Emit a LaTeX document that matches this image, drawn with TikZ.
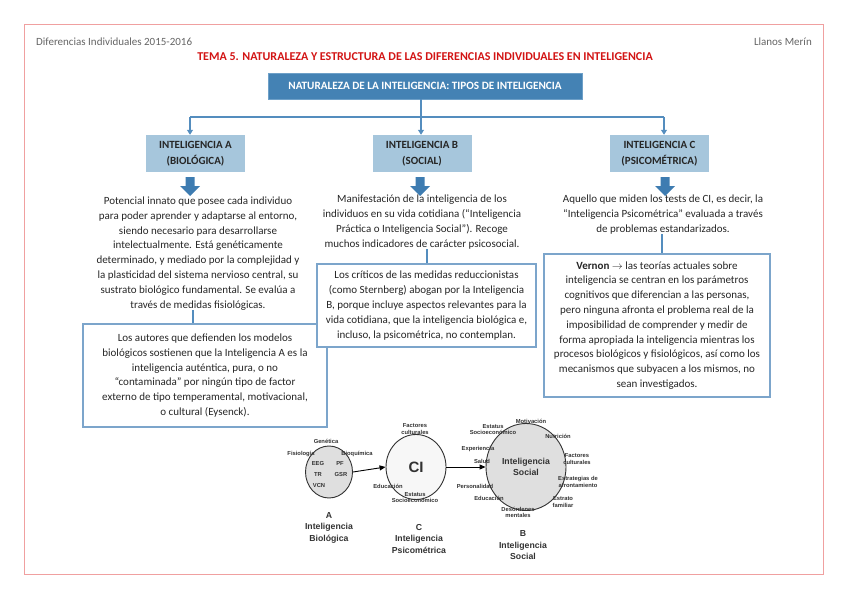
\documentclass[tikz,border=0pt]{standalone}
\usepackage{fontspec}
\setmainfont{Carlito}
\newfontfamily\arialf{Liberation Sans}
\usetikzlibrary{arrows.meta,shapes.geometric}
\definecolor{topblue}{RGB}{68,130,180}
\definecolor{topedge}{RGB}{110,160,200}
\definecolor{lightblue}{RGB}{166,198,220}
\definecolor{linkblue}{RGB}{84,141,190}
\definecolor{arrowblue}{RGB}{62,124,177}
\definecolor{boxedge}{RGB}{124,165,203}
\definecolor{titlered}{RGB}{210,20,20}
\definecolor{pageedge}{RGB}{240,160,160}
\definecolor{figgray}{RGB}{50,50,50}
\definecolor{headgray}{RGB}{100,100,100}
\begin{document}
\begin{tikzpicture}[x=1pt,y=-1pt,
  bodytext/.style={align=center, font=\fontsize{11}{14.8}\selectfont, text=black!85, inner sep=0},
  notebox/.style={draw=boxedge, line width=1.6pt, fill=white, align=center, font=\fontsize{11}{14.8}\selectfont, text=black!85, inner sep=0},
  catbox/.style={fill=lightblue, align=center, font=\bfseries\fontsize{11}{16}\selectfont, text=black!85, minimum width=99, minimum height=37, inner sep=0},
  link/.style={draw=linkblue, line width=1.1pt},
  linkarrow/.style={link, -{Triangle[length=5pt,width=6pt]}},
  figlabel/.style={font=\arialf\bfseries\fontsize{5.8}{6.6}\selectfont, text=figgray, inner sep=0, align=center},
  figcap/.style={font=\arialf\bfseries\fontsize{8.7}{11.5}\selectfont, text=figgray, inner sep=0, align=center},
  figcircle/.style={ellipse, draw=figgray, line width=0.9pt, inner sep=0},
  figarrow/.style={draw=black, line width=0.9pt, -{Triangle[length=6pt,width=5pt]}},
  fatarrow/.pic={\fill[arrowblue] (-4.5,-9.5) -- (4.5,-9.5) -- (4.5,-0.5) -- (10,-0.5) -- (0,9.5) -- (-10,-0.5) -- (-4.5,-0.5) -- cycle;}
]
\useasboundingbox (0,0) rectangle (848,599);
\draw[pageedge, line width=1.4pt] (24.5,24.5) rectangle (823.5,574.5);

% header
\node[anchor=west, inner sep=0, text=headgray, font=\fontsize{11}{13}\selectfont] (hl) at (36,42) {Diferencias Individuales 2015-2016};
\node[anchor=east, inner sep=0, text=headgray, font=\fontsize{11}{13}\selectfont] (hr) at (812,42) {Llanos Merín};
\node[inner sep=0, text=titlered, font=\bfseries\fontsize{12}{14}\selectfont] (title) at (425,57) {TEMA 5. NATURALEZA Y ESTRUCTURA DE LAS DIFERENCIAS INDIVIDUALES EN INTELIGENCIA};

% top box
\node[fill=topblue, draw=topedge, line width=0.8pt, minimum width=314, minimum height=26, inner sep=0, text=white, font=\bfseries\fontsize{11.2}{13}\selectfont] (top) at (425,86) {NATURALEZA DE LA INTELIGENCIA: TIPOS DE INTELIGENCIA};

% category boxes
\node[catbox] (ba) at (195.5,153.5) {INTELIGENCIA A\\(BIOLÓGICA)};
\node[catbox] (bb) at (422,153.5) {INTELIGENCIA B\\(SOCIAL)};
\node[catbox] (bc) at (659.5,153.5) {INTELIGENCIA C\\(PSICOMÉTRICA)};

% tree connectors
\coordinate (jl) at (190,117);
\coordinate (jm) at (421,117);
\coordinate (jr) at (664,117);
\draw[link] (jl) -- (jr);
\draw[linkarrow] (top.south -| jm) -- (bb.north -| jm);
\draw[linkarrow] (jl) -- (ba.north -| jl);
\draw[linkarrow] (jr) -- (bc.north -| jr);

% fat arrows
\pic at (190,186.5) {fatarrow};
\pic at (420,186.5) {fatarrow};
\pic at (665,186.5) {fatarrow};

% descriptions
\node[bodytext] (ta) at (198,253.5) {Potencial innato que posee cada individuo\\
para poder aprender y adaptarse al entorno,\\
siendo necesario para desarrollarse\\
intelectualmente. Está genéticamente\\
determinado, y mediado por la complejidad y\\
la plasticidad del sistema nervioso central, su\\
sustrato biológico fundamental. Se evalúa a\\
través de medidas fisiológicas.};

\node[bodytext] (tb) at (422,222) {Manifestación de la inteligencia de los\\
individuos en su vida cotidiana (“Inteligencia\\
Práctica o Inteligencia Social”). Recoge\\
muchos indicadores de carácter psicosocial.};

\node[bodytext] (tc) at (663,214.5) {Aquello que miden los tests de CI, es decir, la\\
“Inteligencia Psicométrica” evaluada a través\\
de problemas estandarizados.};

% note boxes
\node[notebox, minimum width=244, minimum height=103] (na) at (205,375.5) {Los autores que defienden los modelos\\
biológicos sostienen que la Inteligencia A es la\\
inteligencia auténtica, pura, o no\\
“contaminada” por ningún tipo de factor\\
externo de tipo temperamental, motivacional,\\
o cultural (Eysenck).};

\node[notebox, minimum width=219, minimum height=83] (nb) at (426.5,305.5) {Los críticos de las medidas reduccionistas\\
(como Sternberg) abogan por la Inteligencia\\
B, porque incluye aspectos relevantes para la\\
vida cotidiana, que la inteligencia biológica e,\\
incluso, la psicométrica, no contemplan.};

\node[notebox, minimum width=226, minimum height=143] (nc) at (657,325.5) {\textbf{Vernon} $\rightarrow$ las teorías actuales sobre\\
inteligencia se centran en los parámetros\\
cognitivos que diferencian a las personas,\\
pero ninguna afronta el problema real de la\\
imposibilidad de comprender y medir de\\
forma apropiada la inteligencia mientras los\\
procesos biológicos y fisiológicos, así como los\\
mecanismos que subyacen a los mismos, no\\
sean investigados.};

\coordinate (ka) at (193,0);
\coordinate (kb) at (427,0);
\coordinate (kc) at (662,0);
\draw[link] (ta.south -| ka) -- (na.north -| ka);
\draw[link] (tb.south -| kb) -- (nb.north -| kb);
\draw[link] (tc.south -| kc) -- (nc.north -| kc);

% bottom figure
\node[figcircle, fill=gray!25, minimum width=47, minimum height=52] (ca) at (329,472) {};
\node[figcircle, fill=gray!6, minimum width=60, minimum height=65, font=\arialf\bfseries\fontsize{15}{15}\selectfont, text=figgray] (ci) at (416,467) {CI};
\node[figcircle, fill=gray!25, minimum width=80, minimum height=87, font=\arialf\bfseries\fontsize{8.7}{10.5}\selectfont, text=figgray, align=center] (cb) at (526,467) {Inteligencia\\Social};
\draw[figarrow] (ca.east) -- (ci.west);
\draw[figarrow] (ci.east) -- (cb.west);

\node[figlabel] (lgen) at (326,441) {Genética};
\node[figlabel] (lfis) at (301,454) {Fisiología};
\node[figlabel] (lbio) at (357,454) {Bioquímica};
\node[figlabel] (leeg) at (318,463) {EEG};
\node[figlabel] (lpf) at (340,463) {PF};
\node[figlabel] (ltr) at (318,474) {TR};
\node[figlabel] (lgsr) at (341,474) {GSR};
\node[figlabel] (lvcn) at (319,485) {VCN};

\node[figlabel] (lfc) at (415,429) {Factores\\culturales};
\node[figlabel] (ledu1) at (388,486) {Educación};
\node[figlabel] (lest1) at (415,497.5) {Estatus\\Socioeconómico};

\node[figlabel] (lmot) at (531,421) {Motivación};
\node[figlabel] (lest2) at (493,429.5) {Estatus\\Socioeconómico};
\node[figlabel] (lnut) at (558,436) {Nutrición};
\node[figlabel] (lexp) at (478,449) {Experiencia};
\node[figlabel] (lsal) at (482,461) {Salud};
\node[figlabel] (lfc2) at (577,459) {Factores\\culturales};
\node[figlabel] (lea) at (578,482) {Estrategias de\\afrontamiento};
\node[figlabel] (lper) at (475,486) {Personalidad};
\node[figlabel] (ledu2) at (489,498) {Educación};
\node[figlabel] (lef) at (563,502) {Estrato\\familiar};
\node[figlabel] (ldm) at (518,512.5) {Desórdenes\\mentales};

\node[figcap] (capa) at (329,527.5) {A\\Inteligencia\\Biológica};
\node[figcap] (capc) at (419,538.5) {C\\Inteligencia\\Psicométrica};
\node[figcap] (capb) at (523,545.5) {B\\Inteligencia\\Social};
\end{tikzpicture}
\end{document}
